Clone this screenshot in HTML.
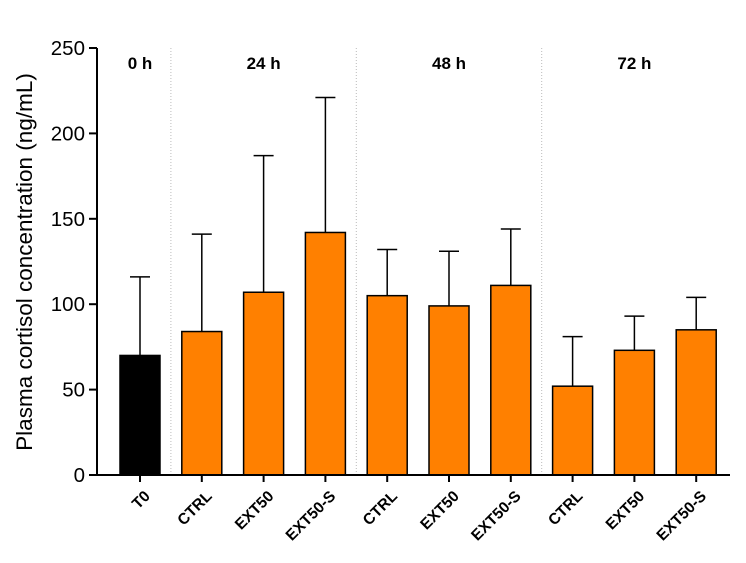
<!DOCTYPE html>
<html><head><meta charset="utf-8"><style>
body{margin:0;background:#fff;}
svg{display:block;font-family:"Liberation Sans",Arial,sans-serif;}
</style></head><body>
<svg id="chart" width="746" height="563">
<g id="grid"></g><g id="bars"></g><g id="axes"></g>
</svg>
<script>
const categories=["T0","CTRL","EXT50","EXT50-S","CTRL","EXT50","EXT50-S","CTRL","EXT50","EXT50-S"];
const means=[70,84,107,142,105,99,111,52,73,85];
const upperErr=[116,141,187,221,132,131,144,81,93,104];
const colors=["#000000","#ff8000","#ff8000","#ff8000","#ff8000","#ff8000","#ff8000","#ff8000","#ff8000","#ff8000"];
const yTicks=[0,50,100,150,200,250];
const groupLabels=["0 h","24 h","48 h","72 h"];
const groupCenterIdx=[0,2,5,8];
const separatorsAfter=[0,3,6];
const NS="http://www.w3.org/2000/svg";
const x0=97,yBase=475,yTop=48,yMax=250;
const y=v=>yBase-(v/yMax)*(yBase-yTop);
const xc=i=>140+61.8*i;
const bw=40;
function mk(tag,attrs,parent){const e=document.createElementNS(NS,tag);for(const k in attrs)e.setAttribute(k,attrs[k]);parent.appendChild(e);return e;}
const gGrid=document.getElementById('grid'),gBars=document.getElementById('bars'),gAx=document.getElementById('axes');
separatorsAfter.forEach((s,k)=>{
 const xs=(xc(s)+xc(s+1))/2;
 const l=mk('line',{x1:xs,x2:xs,y1:yTop,y2:yBase,stroke:'#bbb','stroke-width':1,'stroke-dasharray':'1,2'},gGrid);
 
 
});
groupLabels.forEach((g,k)=>{
 const t=mk('text',{x:xc(groupCenterIdx[k]),y:69,'text-anchor':'middle','font-size':17,'font-weight':'bold'},gGrid);
 t.textContent=g;
 
 
});
means.forEach((m,i)=>{
 const cx=xc(i);
 const e=mk('line',{x1:cx,x2:cx,y1:y(upperErr[i]),y2:y(m),stroke:'#000','stroke-width':1.5},gBars);
 
 
 const c=mk('line',{x1:cx-10,x2:cx+10,y1:y(upperErr[i]),y2:y(upperErr[i]),stroke:'#000','stroke-width':1.5},gBars);
 
 
 const r=mk('rect',{x:cx-bw/2,y:y(m),width:bw,height:yBase-y(m),fill:colors[i],stroke:'#000','stroke-width':1.5},gBars);
 
 
 const tk=mk('line',{x1:cx,x2:cx,y1:yBase,y2:yBase+7,stroke:'#000','stroke-width':2},gAx);
 
 
 const t=mk('text',{x:cx+11,y:497,'text-anchor':'end','font-size':15.5,'font-weight':'bold',transform:`rotate(-45 ${cx+11} 497)`},gAx);
 t.textContent=categories[i];
 
 
});
const ya=mk('line',{x1:x0,x2:x0,y1:yTop,y2:yBase,stroke:'#000','stroke-width':2},gAx);


const xa=mk('line',{x1:x0,x2:730,y1:yBase,y2:yBase,stroke:'#000','stroke-width':2},gAx);


yTicks.forEach(v=>{
 const tk=mk('line',{x1:x0-8,x2:x0,y1:y(v),y2:y(v),stroke:'#000','stroke-width':2},gAx);
 
 
 const t=mk('text',{x:x0-12,y:y(v)+7,'text-anchor':'end','font-size':20.5},gAx);
 t.textContent=v;
 
 
});
const yl=mk('text',{x:32,y:262,'text-anchor':'middle','font-size':22.5,transform:'rotate(-90 32 262)'},gAx);
yl.textContent='Plasma cortisol concentration  (ng/mL)';


</script>
</body></html>
